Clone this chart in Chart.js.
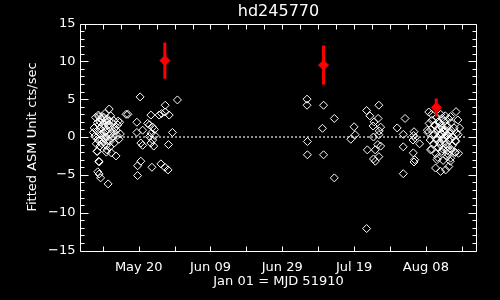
<!DOCTYPE html>
<html>
<head>
<meta charset="utf-8">
<script src="https://cdn.jsdelivr.net/npm/chart.js@4/dist/chart.umd.min.js"></script>
<style>
  html,body{margin:0;padding:0;background:#000;}
  canvas{display:block;}
</style>
</head>
<body>
<canvas id="grafico" width="500" height="300"></canvas>
<script>
// days since Jan 01 (MJD 51910) and fitted ASM rate, one pair per dwell
const asmDay = [
  // early May group
  130.8,135.5,133.3,127.4,130.2,132.7,127.9,127.6,128.0,128.4,130.5,
  127.0,127.8,128.8,129.6,130.3,131.2,132.0,128.2,129.1,130.0,131.0,132.4,133.2,
  126.6,127.4,128.3,129.2,130.1,131.1,132.0,133.0,126.8,127.6,128.5,129.4,130.3,
  131.3,132.2,127.2,128.2,129.1,130.0,131.0,133.5,126.4,127.9,129.8,131.6,132.8,
  128.7,127.9,133.7,133.9,131.4,130.0,127.5,128.0,
  127.5,128.5,129.5,130.5,131.5,128.0,129.0,130.0,131.0,128.8,129.8,130.8,129.3,128.0,131.8,
  // late May
  139.4,149.8,146.4,142.4,144.7,145.4,147.5,146.4,138.5,141.5,142.0,142.9,143.4,
  142.5,138.5,140.1,148.4,142.0,142.9,143.5,139.6,140.1,142.4,143.2,147.3,139.6,
  138.7,142.7,145.2,146.3,147.2,138.7,136.0,
  // early July
  185.9,185.9,190.5,193.5,190.2,186.0,186.0,190.5,193.5,
  // mid July
  199.0,199.3,198.1,205.9,202.5,203.4,205.7,204.6,204.3,206.4,205.9,204.4,206.4,
  202.7,204.9,205.9,204.4,204.9,205.6,206.0,202.5,
  211.0,213.2,212.7,212.7,212.7,215.7,215.4,217.25,215.5,215.9,215.7,215.6,216.0,
  // August group
  219.8,220.6,227.4,227.9,225.9,223.5,219.4,220.3,227.25,227.25,222.1,225.9,
  221.7,223.1,224.5,225.4,228.1,228.4,228.0,
  219.9,220.7,221.5,222.4,223.3,224.2,225.1,226.0,226.9,
  219.6,220.4,221.3,222.2,223.0,223.9,224.8,225.7,226.6,227.5,
  220.2,221.1,222.0,222.8,223.7,224.6,225.5,226.4,227.3,
  220.6,221.8,222.5,223.4,224.3,225.2,226.1,227.0,
  222.3,223.8,224.9,225.8,223.1,224.4,222.0,225.4,
  222.7,223.5,224.5,224.0,223.3,225.3,
  221.5,222.5,223.5,224.5,225.5,222.0,223.0,224.0,225.0,226.0,221.0,223.7,224.8,222.8,225.8
];
const asmRate = [
  3.7,3.0,2.1,-1.9,-1.7,-2.5,-3.2,-4.6,-4.9,-5.4,-6.2,
  2.6,2.9,2.7,3.1,2.4,2.8,2.2,2.0,1.7,1.9,1.5,1.2,1.6,
  1.2,0.8,1.1,0.6,0.9,0.4,0.7,0.2,0.1,-0.3,0.3,-0.1,-0.5,
  -0.2,-0.8,-0.9,-1.2,-0.7,-1.1,-1.3,-0.3,0.6,1.6,2.2,1.9,0.9,
  -0.4,2.7,1.95,0.4,-2.1,-2.0,-1.9,-3.3,
  1.9,2.4,1.3,1.6,1.0,0.5,0.2,0.0,-0.6,-0.9,0.7,2.1,2.6,-0.5,0.1,
  5.3,4.9,4.2,2.9,2.9,3.1,2.9,3.3,1.95,1.8,1.6,1.3,1.0,
  0.5,0.6,0.9,0.6,0.05,-0.4,0.2,-0.8,-1.1,-0.8,-1.2,-1.0,-3.2,
  -3.8,-4.0,-3.55,-4.0,-4.35,-5.1,3.0,
  5.0,4.2,4.2,2.45,1.15,-0.6,-2.35,-2.35,-5.4,
  1.35,0.3,-0.3,4.2,3.5,2.8,2.45,2.0,1.45,1.3,0.3,0.0,-1.2,
  -1.7,-1.7,-2.6,-2.9,-3.2,-1.0,0.8,-12.1,
  1.2,2.45,0.35,-1.3,-4.85,0.7,-0.4,-0.9,-2.1,-3.0,-3.3,0.2,-0.1,
  3.3,3.0,3.35,2.25,2.7,2.45,0.9,-1.7,-0.5,-2.05,-3.0,-2.8,
  -4.1,-4.55,-4.35,-3.9,-2.15,1.2,0.3,
  1.8,2.2,1.5,2.0,1.6,2.1,1.4,1.9,1.2,
  0.6,1.0,0.4,0.9,0.2,0.7,0.1,0.6,0.0,0.5,
  -0.4,-0.9,-0.2,-0.7,-0.3,-1.0,-0.5,-1.1,-0.6,
  -1.6,-2.2,-1.4,-1.9,-1.5,-2.3,-1.7,-2.0,
  -2.7,-3.1,-2.6,-3.2,3.0,2.8,2.6,2.4,
  1.1,1.2,0.9,-0.1,0.5,-1.3,
  1.6,1.2,0.4,1.5,0.5,-0.4,-1.0,-0.6,-1.8,0.9,0.2,-1.6,0.3,1.9,-0.2
];

// averaged points with error bars
const meanDay = [146.3, 190.5, 221.9];
const meanRate = [10.1, 9.5, 3.9];
const meanErr = [2.4, 2.6, 1.2];

// dotted zero reference
const zeroDay = [125.8, 230.2];

const xTickValues = [139, 159, 179, 199, 219];
const xTickLabels = ["May 20", "Jun 09", "Jun 29", "Jul 19", "Aug 08"];
const yTickValues = [-15, -10, -5, 0, 5, 10, 15];
const yTickLabels = ["\u221215", "\u221210", "\u22125", "0", "5", "10", "15"];

const fonte = "'DejaVu Sans', sans-serif";

/* MOLDURA E MARCAS */
const moldura = {
  id: "moldura",
  afterDatasetsDraw(chart){
    const {ctx, chartArea:a, scales:{x, y}} = chart;
    const L = 80.5, R = 476.5, T = Math.round(a.top)+0.5, B = Math.round(a.bottom)+0.5;
    ctx.save();
    ctx.strokeStyle = "#ffffff";
    ctx.lineWidth = 1;
    ctx.beginPath();
    ctx.moveTo(L, T); ctx.lineTo(R, T); ctx.lineTo(R, B); ctx.lineTo(L, B); ctx.closePath();
    // bottom ticks every 10 days, top every 5
    for(let d=129; d<=x.max; d+=10){
      const px = Math.round(x.getPixelForValue(d))+0.5;
      ctx.moveTo(px, B); ctx.lineTo(px, B-5);
    }
    for(let d=124; d<=x.max; d+=5){
      const px = Math.round(x.getPixelForValue(d))+0.5;
      ctx.moveTo(px, T); ctx.lineTo(px, T+5);
    }
    for(let v=-15; v<=15; v++){
      const py = Math.round(y.getPixelForValue(v))+0.5;
      const len = v%5===0 ? 8 : 4;
      ctx.moveTo(L, py); ctx.lineTo(L+len, py);
      ctx.moveTo(R, py); ctx.lineTo(R-len, py);
    }
    ctx.stroke();

    // error bars on the mean points
    ctx.strokeStyle = "#ff0000";
    ctx.lineWidth = 3;
    ctx.beginPath();
    meanDay.forEach((d,i)=>{
      const px = x.getPixelForValue(d);
      ctx.moveTo(px, y.getPixelForValue(meanRate[i]+meanErr[i]));
      ctx.lineTo(px, y.getPixelForValue(meanRate[i]-meanErr[i]));
    });
    ctx.stroke();
    ctx.restore();
  }
};

new Chart(document.getElementById("grafico"), {
  type: "scatter",
  data: {
    datasets: [
      {
        data: meanDay.map((d,i)=>({x:d, y:meanRate[i]})),
        pointStyle: "rectRot",
        pointRadius: 5,
        backgroundColor: "#ff0000",
        borderColor: "#ff0000",
        borderWidth: 1
      },
      {
        data: asmDay.map((d,i)=>({x:d, y:asmRate[i]})),
        pointStyle: "rectRot",
        pointRadius: 4,
        backgroundColor: "rgba(0,0,0,0)",
        borderColor: "#ffffff",
        borderWidth: 1
      },
      {
        type: "line",
        data: zeroDay.map(d=>({x:d, y:0})),
        borderColor: "#ffffff",
        borderWidth: 1.5,
        borderDash: [1.5, 2.5],
        pointRadius: 0
      }
    ]
  },
  options: {
    responsive: false,
    animation: false,
    layout: {padding: {left: 0, right: 23.5, top: 0, bottom: 0}},
    plugins: {
      legend: {display: false},
      tooltip: {enabled: false},
      title: {
        display: true,
        fullSize: false,
        text: "hd245770",
        color: "#fff",
        font: {family: fonte, size: 16, weight: "normal"},
        padding: {top: 2, bottom: 2.3}
      }
    },
    scales: {
      x: {
        type: "linear",
        min: 122.8,
        max: 233.1,
        grid: {display: false, drawTicks: false},
        border: {display: false},
        afterBuildTicks: s => { s.ticks = xTickValues.map(v=>({value:v})); },
        afterFit: s => { s.height = 49.5; },
        ticks: {
          color: "#fff",
          padding: 9,
          maxRotation: 0,
          font: {family: fonte, size: 13},
          callback: v => xTickLabels[xTickValues.indexOf(v)]
        },
        title: {
          display: true,
          text: "Jan 01 = MJD 51910",
          color: "#fff",
          font: {family: fonte, size: 13},
          padding: {bottom: 11}
        }
      },
      y: {
        min: -15,
        max: 15,
        grid: {display: false, drawTicks: false},
        border: {display: false},
        afterBuildTicks: s => { s.ticks = yTickValues.map(v=>({value:v})); },
        afterFit: s => { s.width = 80.5; },
        ticks: {
          color: "#fff",
          padding: 5,
          font: {family: fonte, size: 13},
          callback: v => yTickLabels[yTickValues.indexOf(v)]
        },
        title: {
          display: true,
          text: "Fitted ASM Unit cts/sec",
          color: "#fff",
          font: {family: fonte, size: 13},
          padding: {top: 25}
        }
      }
    }
  },
  plugins: [moldura]
});
</script>
</body>
</html>
